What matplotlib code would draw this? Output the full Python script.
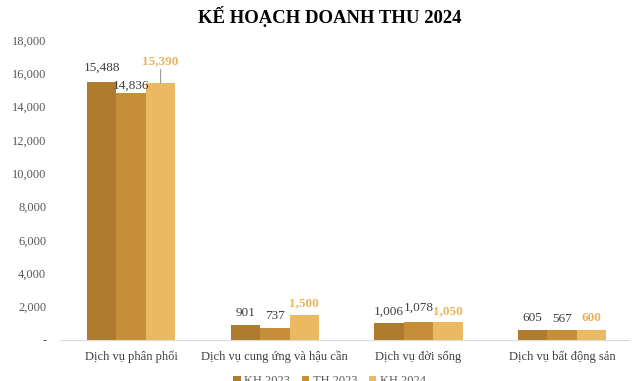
import matplotlib.pyplot as plt
import numpy as np

categories = ["Dịch vụ phân phối", "Dịch vụ cung ứng và hậu cần", "Dịch vụ đời sống", "Dịch vụ bất động sản"]
series_names = ["KH 2023", "TH 2023", "KH 2024"]
kh2023 = [15488, 901, 1006, 605]
th2023 = [14836, 737, 1078, 567]
kh2024 = [15390, 1500, 1050, 600]
yticks = [0, 2000, 4000, 6000, 8000, 10000, 12000, 14000, 16000, 18000]

colors = ["#AE7B2E", "#C68E36", "#EAB962"]
label_colors = ["#404040", "#404040", "#E8B45C"]

plt.rcParams["font.family"] = ["Liberation Serif", "DejaVu Serif"]

fig = plt.figure(figsize=(6.4, 3.81), dpi=100)
ax = fig.add_axes([0.094, 0.108, 0.889, 0.787])

x = np.arange(len(categories))
w = 0.205
all_series = [kh2023, th2023, kh2024]
for i, vals in enumerate(all_series):
    ax.bar(x + (i - 1) * w, vals, w, color=colors[i], label=series_names[i], zorder=2)

# data labels, with small nudges like the original
for j in range(len(categories)):
    for i, vals in enumerate(all_series):
        v = vals[j]
        xpos = x[j] + (i - 1) * w
        dy = 4
        weight = "bold" if i == 2 else "normal"
        if j == 0 and i == 1:
            ax.annotate(f"{v:,}", (xpos, v), xytext=(0, 1), textcoords="offset points",
                        ha="center", va="bottom", fontsize=9.5, color=label_colors[i])
            continue
        if j == 0 and i == 2:
            ax.annotate(f"{v:,}", (xpos, v), xytext=(0, 12), textcoords="offset points",
                        ha="center", va="bottom", fontsize=9.5, color=label_colors[i], weight=weight,
                        arrowprops=dict(arrowstyle="-", color="#999999", lw=0.8, shrinkA=0, shrinkB=0))
            continue
        if j == 0 and i == 0:
            dy = 6
        if j == 2 and i == 1:
            dy = 6
        ax.annotate(f"{v:,}", (xpos, v), xytext=(0, dy), textcoords="offset points",
                    ha="center", va="bottom", fontsize=9.5, color=label_colors[i], weight=weight)

ax.set_ylim(0, 18000)
ax.set_xlim(-0.494, 3.466)
ax.set_yticks(yticks)
ax.set_yticklabels(["-"] + [f"{t:,}" for t in yticks[1:]], color="#595959", fontsize=9)
ax.set_xticks(x)
ax.set_xticklabels(categories, fontsize=9, color="#404040")
ax.tick_params(axis="both", length=0)
ax.tick_params(axis="y", pad=10)
ax.tick_params(axis="x", pad=8)
for s in ["top", "right", "left"]:
    ax.spines[s].set_visible(False)
ax.spines["bottom"].set_color("#D9D9D9")

fig.suptitle("KẾ HOẠCH DOANH THU 2024", x=0.515, y=0.985, fontsize=13.5, weight="bold", va="top")

fig.legend(loc="center", bbox_to_anchor=(0.515, 0.0), ncol=3, frameon=False, fontsize=9,
           handlelength=0.6, handleheight=0.6, handletextpad=0.3, columnspacing=0.9,
           labelcolor="#595959")

fig.savefig("out.png", dpi=100)
